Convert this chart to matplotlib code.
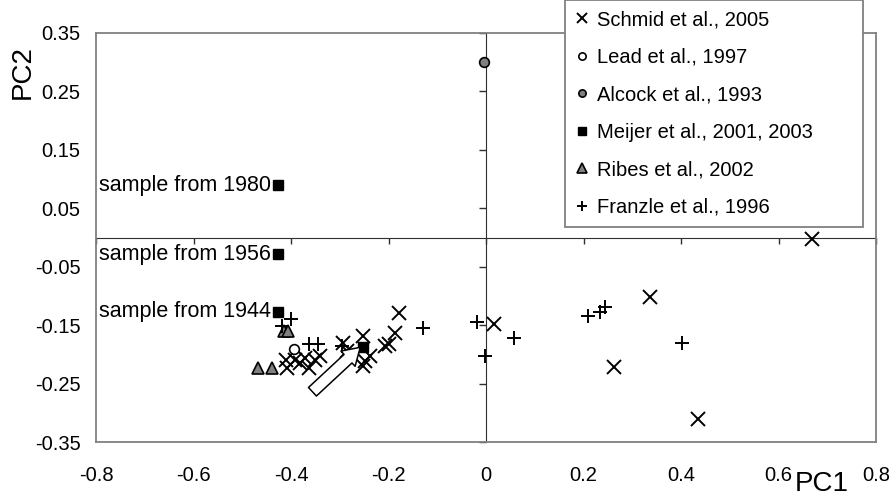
import numpy as np
import matplotlib.pyplot as plt

plt.rcParams['font.family'] = ['Liberation Sans', 'DejaVu Sans']

# PCA scores of the congener profiles, one pair of lists per study
schmid_pc1 = [-0.41, -0.408, -0.392, -0.382, -0.371, -0.364, -0.351, -0.341,
              -0.293, -0.286, -0.252, -0.248, -0.252, -0.238, -0.207, -0.200,
              -0.187, -0.178, 0.017, 0.263, 0.336, 0.435, 0.668]
schmid_pc2 = [-0.209, -0.223, -0.209, -0.215, -0.206, -0.223, -0.209, -0.203,
              -0.180, -0.195, -0.169, -0.212, -0.220, -0.203, -0.186, -0.182,
              -0.164, -0.130, -0.148, -0.222, -0.102, -0.310, -0.002]

lead_pc1 = [-0.394]
lead_pc2 = [-0.190]

alcock_pc1 = [-0.005]
alcock_pc2 = [0.30]

meijer_pc1 = [-0.427, -0.427, -0.427, -0.252]
meijer_pc2 = [0.089, -0.029, -0.127, -0.187]
meijer_notes = ['sample from 1980', 'sample from 1956', 'sample from 1944', '']

ribes_pc1 = [-0.468, -0.439, -0.414, -0.406]
ribes_pc2 = [-0.223, -0.223, -0.160, -0.160]

franzle_pc1 = [-0.419, -0.399, -0.364, -0.344, -0.296, -0.130, -0.018,
               -0.002, 0.057, 0.210, 0.234, 0.244, 0.403]
franzle_pc2 = [-0.152, -0.139, -0.183, -0.183, -0.186, -0.155, -0.144,
               -0.202, -0.172, -0.135, -0.128, -0.119, -0.181]

x_ticks = [-0.8, -0.6, -0.4, -0.2, 0.0, 0.2, 0.4, 0.6, 0.8]
x_labels = ['-0.8', '-0.6', '-0.4', '-0.2', '0', '0.2', '0.4', '0.6', '0.8']
y_ticks = [0.35, 0.25, 0.15, 0.05, -0.05, -0.15, -0.25, -0.35]
y_labels = ['0.35', '0.25', '0.15', '0.05', '-0.05', '-0.15', '-0.25', '-0.35']

fig = plt.figure(figsize=(8.96, 4.99), dpi=100)
ax = fig.add_axes([96 / 896, 57 / 499, 780 / 896, 409 / 499])

fs = 14.5
ax.plot(schmid_pc1, schmid_pc2, 'x', ms=10, mew=1.4, color='black',
        label='Schmid et al., 2005')
ax.plot(lead_pc1, lead_pc2, 'o', ms=7, mew=1.2, mfc='white', mec='black',
        label='Lead et al., 1997')
ax.plot(alcock_pc1, alcock_pc2, 'o', ms=7, mew=1.2, mfc='#808080', mec='black',
        label='Alcock et al., 1993')
ax.plot(meijer_pc1, meijer_pc2, 's', ms=7, color='black',
        label='Meijer et al., 2001, 2003')
ax.plot(ribes_pc1, ribes_pc2, '^', ms=9, mew=1.2, mfc='#808080', mec='black',
        label='Ribes et al., 2002')
ax.plot(franzle_pc1, franzle_pc2, '+', ms=10, mew=1.4, color='black',
        label='Franzle et al., 1996')

for px, py, note in zip(meijer_pc1, meijer_pc2, meijer_notes):
    if note:
        ax.annotate(note, xy=(px, py), xytext=(-5, 0), textcoords='offset points',
                    ha='right', va='center', fontsize=15.5)

# block arrow pointing at the recent Meijer sample
ax.annotate('', xy=(-0.258, -0.188), xytext=(-0.356, -0.264),
            arrowprops=dict(arrowstyle='simple,head_width=0.75,head_length=0.6,tail_width=0.42',
                            fc='white', ec='black', lw=1.1, shrinkA=0, shrinkB=0,
                            mutation_scale=20))

ax.set_xlim(-0.8, 0.8)
ax.set_ylim(-0.35, 0.35)
ax.set_xticks(x_ticks, labels=x_labels, fontsize=fs)
ax.set_yticks(y_ticks, labels=y_labels, fontsize=fs)
ax.tick_params(axis='x', length=0, pad=17)
ax.tick_params(axis='y', length=0, pad=11)
for sp in ax.spines.values():
    sp.set_color('#808080')
    sp.set_linewidth(1.3)

# axes crossing at the origin, ticked but unlabelled
cross_col = '#303030'
sx = ax.secondary_xaxis(0.5)
sx.set_alignment('bottom')
sx.set_xticks(x_ticks)
sx.tick_params(labelbottom=False, labeltop=False, direction='out', length=4,
               color=cross_col, width=1)
sx.spines['bottom'].set_color(cross_col)
sy = ax.secondary_yaxis(0.5)
sy.set_alignment('left')
sy.set_yticks(y_ticks)
sy.tick_params(labelleft=False, labelright=False, direction='out', length=5,
               color=cross_col, width=1)
sy.spines['left'].set_color(cross_col)

fig.text(23 / 896, 1 - 72 / 499, 'PC2', rotation=90, ha='center', va='center',
         fontsize=20)
fig.text(822 / 896, 1 - 484 / 499, 'PC1', ha='center', va='center', fontsize=20)

leg = ax.legend(loc='upper left', bbox_to_anchor=(565 / 896, 0, 298 / 896, 1.0),
                bbox_transform=fig.transFigure, mode='expand', borderaxespad=0,
                fontsize=fs, frameon=True, fancybox=False, framealpha=1,
                edgecolor='#808080', labelspacing=0.92, handlelength=0.7,
                handletextpad=0.4, borderpad=0.5, markerscale=0.75)
leg.get_frame().set_linewidth(1.3)

fig.savefig('out.png', dpi=100)
